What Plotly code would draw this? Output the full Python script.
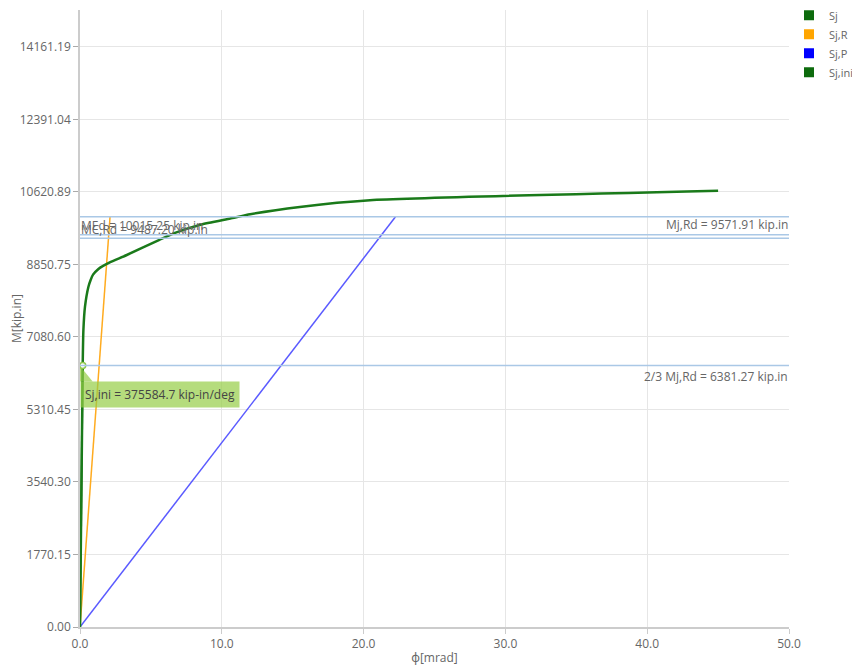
import plotly.graph_objects as go

# ---- data ----
sj_phi = [0, 0.19, 0.24, 0.35, 0.59, 0.75, 0.92, 1.3, 1.6, 2.1, 3.3, 5.6, 6.7, 8.5, 10.6, 12.0, 15.5, 20.45, 45.0]
sj_m = [0, 6381.27, 7250, 7813, 8300, 8470, 8600, 8740, 8810, 8900, 9080, 9450, 9620, 9820, 9970, 10075, 10254, 10417, 10650]
sjr_phi = [0, 2.12]
sjr_m = [0, 10015.25]
sjp_phi = [0, 22.25]
sjp_m = [0, 10015.25]
sjini_phi = [0, 0.19]
sjini_m = [0, 6381.27]

ref_names = ["MEd = 10015.25 kip.in", "MC,Rd = 9487.20 kip.in", "Mj,Rd = 9571.91 kip.in", "2/3 Mj,Rd = 6381.27 kip.in"]
ref_vals = [10015.25, 9487.20, 9571.91, 6381.27]
ref_side = ["left", "left", "right", "right"]
ref_pos = ["below", "above", "above", "below"]
ref_shift = [1, -1, 1, -1]

y_step = 1770.14875
y_tickvals = [i * y_step for i in range(9)]
y_ticktext = ["0.00", "1770.15", "3540.30", "5310.45", "7080.60", "8850.75", "10620.89", "12391.04", "14161.19"]
x_tickvals = [0, 10, 20, 30, 40, 50]
x_ticktext = ["0.0", "10.0", "20.0", "30.0", "40.0", "50.0"]
sjini_label = "Sj,ini = 375584.7 kip-in/deg"

GREEN = "#1a7a1a"
ORANGE = "#ffab1f"
BLUE = "#5a5aff"
REF = "#aac8e6"
FONT = "Open Sans, Noto Sans, sans-serif"

fig = go.Figure()
fig.add_trace(go.Scatter(x=sjp_phi, y=sjp_m, mode="lines", line=dict(color=BLUE, width=1.5), showlegend=False))
fig.add_trace(go.Scatter(x=sjr_phi, y=sjr_m, mode="lines", line=dict(color=ORANGE, width=1.5), showlegend=False))
fig.add_trace(go.Scatter(x=sj_phi, y=sj_m, mode="lines",
                         line=dict(color=GREEN, width=2.5, shape="spline", smoothing=0.5), showlegend=False))
fig.add_trace(go.Scatter(x=sjini_phi, y=sjini_m, mode="lines", line=dict(color=GREEN, width=2), showlegend=False))
fig.add_trace(go.Scatter(x=[sjini_phi[-1]], y=[sjini_m[-1]], mode="markers",
                         marker=dict(color="white", size=6, line=dict(color="#8cc84b", width=1.5)), showlegend=False))

# legend entries (square swatches)
for name, col in [("Sj", "#0d6b0d"), ("Sj,R", "#ffa500"), ("Sj,P", "#0000ff"), ("Sj,ini", "#0d6b0d")]:
    fig.add_trace(go.Scatter(x=[None], y=[None], mode="markers", name=name,
                             marker=dict(symbol="square", size=10, color=col)))

# reference lines
for name, v, side, pos, sh in zip(ref_names, ref_vals, ref_side, ref_pos, ref_shift):
    fig.add_shape(type="line", xref="paper", yref="y", x0=0, x1=1, y0=v, y1=v,
                  line=dict(color=REF, width=1.5))
    fig.add_annotation(xref="paper", yref="y", x=0 if side == "left" else 1, y=v,
                       xanchor=side, yanchor="top" if pos == "below" else "bottom",
                       text=name, showarrow=False, font=dict(size=12, color="#666", family=FONT),
                       borderpad=0, yshift=sh)

# Sj,ini callout
fig.add_shape(type="path", xref="x", yref="y", xsizemode="pixel", ysizemode="pixel",
              xanchor=sjini_phi[-1], yanchor=sjini_m[-1],
              path="M -3 0 L -3 -16 L 10 -16 Z", fillcolor="rgba(150,205,70,0.7)", line=dict(width=0))
fig.add_annotation(x=0, y=sjini_m[-1], xref="x", yref="y", xanchor="left", yanchor="top",
                   yshift=-15, text=sjini_label, showarrow=False,
                   bgcolor="rgba(150,205,70,0.7)", borderpad=4,
                   font=dict(size=12, color="#444", family=FONT))

fig.update_layout(
    width=860, height=669,
    margin=dict(l=72, r=79, t=2, b=50, autoexpand=False),
    plot_bgcolor="white", paper_bgcolor="white",
    font=dict(family=FONT, size=12, color="#666"),
    legend=dict(x=1.0, y=1.015, xanchor="left", yanchor="top", font=dict(size=11, color="#666"),
                bgcolor="rgba(0,0,0,0)", itemwidth=30, tracegroupgap=0),
    xaxis=dict(range=[0, 50], tickvals=x_tickvals, ticktext=x_ticktext, showgrid=True, automargin=False,
               gridcolor="#e6e6e6", zeroline=False, showline=True, linecolor="#cccccc", linewidth=1.5,
               ticks="outside", ticklen=5, tickcolor="#cccccc",
               title=dict(text="ϕ[mrad]", font=dict(size=12, color="#666"), standoff=2)),
    yaxis=dict(range=[0, 15060], tickvals=y_tickvals, ticktext=y_ticktext, showgrid=True, automargin=False,
               gridcolor="#e6e6e6", zeroline=False, showline=True, linecolor="#cccccc", linewidth=1.5,
               ticks="outside", ticklen=5, tickcolor="#aaaaaa",
               title=dict(text="M[kip.in]", font=dict(size=12, color="#666"), standoff=8)),
)

fig.write_html("out.html")
